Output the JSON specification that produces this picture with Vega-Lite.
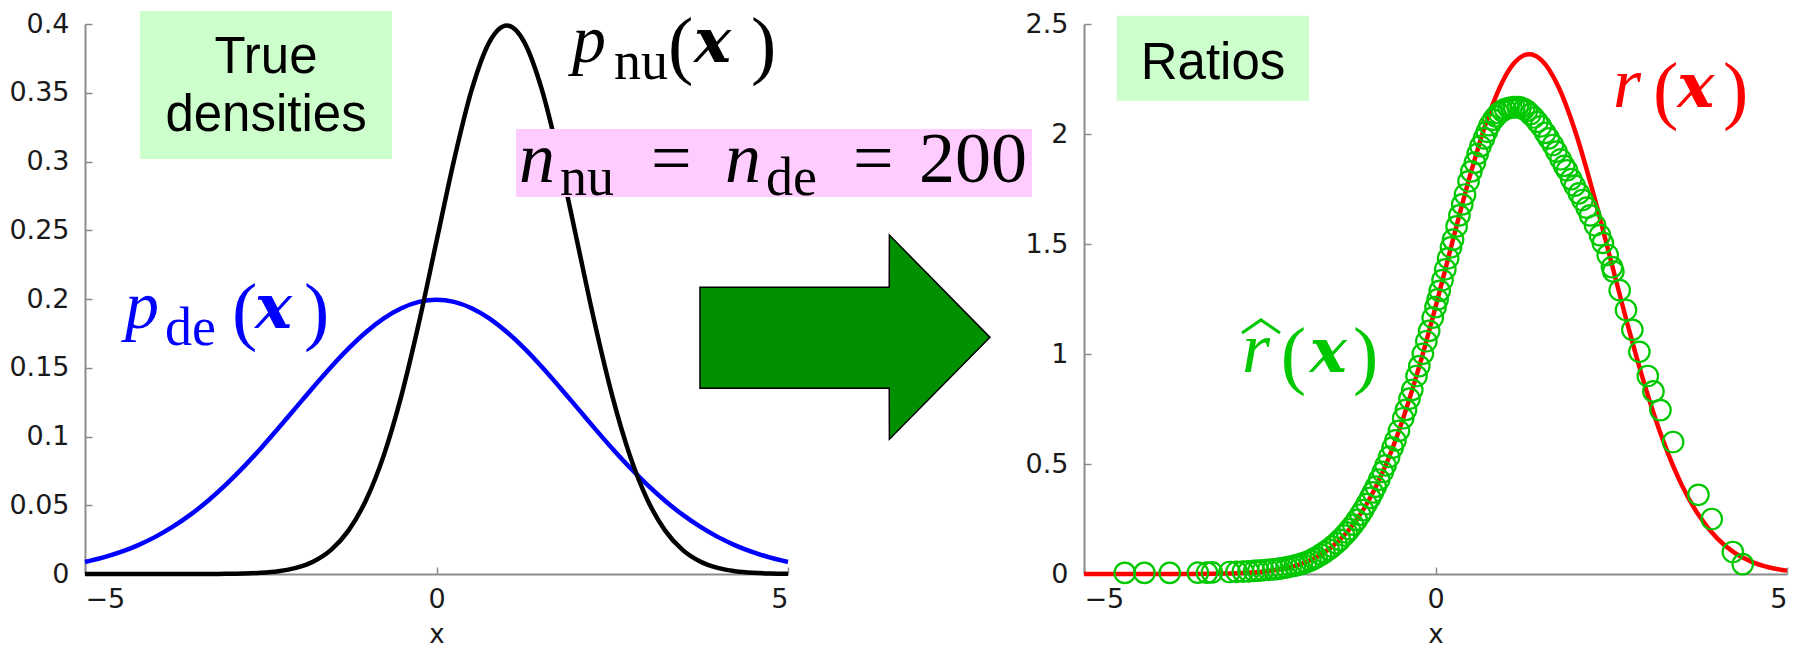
{
  "$schema": "https://vega.github.io/schema/vega-lite/v6.json",
  "background": "white",
  "autosize": {"type": "none"},
  "padding": {"left": 85, "top": 24, "right": 1720, "bottom": 628},
  "bounds": "flush",
  "spacing": 296,
  "resolve": {"scale": {"x": "independent", "y": "independent", "color": "independent"}},
  "config": {
    "view": {"stroke": null},
    "axis": {
      "grid": false,
      "domainColor": "#8c8c8c",
      "domainWidth": 2,
      "tickColor": "#8c8c8c",
      "tickWidth": 1.5,
      "tickSize": -7,
      "labelFont": "DejaVu Sans",
      "labelFontSize": 27,
      "labelColor": "#1a1a1a",
      "titleFont": "DejaVu Sans",
      "titleFontSize": 26,
      "titleFontWeight": "normal",
      "titleColor": "#1a1a1a"
    },
    "axisY": {"labelPadding": 23},
    "axisX": {"labelPadding": 19, "titlePadding": 9}
  },
  "datasets": {
    "densities": [
      {"x": -5, "p_nu": 0, "p_de": 0.00877},
      {"x": -4.75, "p_nu": 0, "p_de": 0.01188},
      {"x": -4.5, "p_nu": 0, "p_de": 0.01587},
      {"x": -4.25, "p_nu": 0, "p_de": 0.02086},
      {"x": -4, "p_nu": 0.0000015, "p_de": 0.027},
      {"x": -3.75, "p_nu": 0.000005, "p_de": 0.03439},
      {"x": -3.5, "p_nu": 0.000016, "p_de": 0.04314},
      {"x": -3.25, "p_nu": 0.000048, "p_de": 0.05327},
      {"x": -3, "p_nu": 0.000134, "p_de": 0.06476},
      {"x": -2.75, "p_nu": 0.000353, "p_de": 0.07751},
      {"x": -2.5, "p_nu": 0.000873, "p_de": 0.09132},
      {"x": -2.25, "p_nu": 0.00203, "p_de": 0.10594},
      {"x": -2, "p_nu": 0.00443, "p_de": 0.12099},
      {"x": -1.75, "p_nu": 0.00909, "p_de": 0.13603},
      {"x": -1.5, "p_nu": 0.01753, "p_de": 0.15057},
      {"x": -1.25, "p_nu": 0.03174, "p_de": 0.16408},
      {"x": -1, "p_nu": 0.05399, "p_de": 0.17603},
      {"x": -0.75, "p_nu": 0.08628, "p_de": 0.18593},
      {"x": -0.5, "p_nu": 0.12952, "p_de": 0.19333},
      {"x": -0.25, "p_nu": 0.18265, "p_de": 0.19792},
      {"x": 0, "p_nu": 0.24197, "p_de": 0.19947},
      {"x": 0.25, "p_nu": 0.30114, "p_de": 0.19792},
      {"x": 0.5, "p_nu": 0.35207, "p_de": 0.19333},
      {"x": 0.75, "p_nu": 0.38667, "p_de": 0.18593},
      {"x": 1, "p_nu": 0.39894, "p_de": 0.17603},
      {"x": 1.25, "p_nu": 0.38667, "p_de": 0.16408},
      {"x": 1.5, "p_nu": 0.35207, "p_de": 0.15057},
      {"x": 1.75, "p_nu": 0.30114, "p_de": 0.13603},
      {"x": 2, "p_nu": 0.24197, "p_de": 0.12099},
      {"x": 2.25, "p_nu": 0.18265, "p_de": 0.10594},
      {"x": 2.5, "p_nu": 0.12952, "p_de": 0.09132},
      {"x": 2.75, "p_nu": 0.08628, "p_de": 0.07751},
      {"x": 3, "p_nu": 0.05399, "p_de": 0.06476},
      {"x": 3.25, "p_nu": 0.03174, "p_de": 0.05327},
      {"x": 3.5, "p_nu": 0.01753, "p_de": 0.04314},
      {"x": 3.75, "p_nu": 0.00909, "p_de": 0.03439},
      {"x": 4, "p_nu": 0.00443, "p_de": 0.027},
      {"x": 4.25, "p_nu": 0.00203, "p_de": 0.02086},
      {"x": 4.5, "p_nu": 0.000873, "p_de": 0.01587},
      {"x": 4.75, "p_nu": 0.000353, "p_de": 0.01188},
      {"x": 5, "p_nu": 0.000134, "p_de": 0.00877}
    ],
    "ratio": [
      {"x": -5, "r": 0},
      {"x": -4.5, "r": 0.00001},
      {"x": -4, "r": 0.0001},
      {"x": -3.5, "r": 0.00037},
      {"x": -3, "r": 0.00206},
      {"x": -2.75, "r": 0.00455},
      {"x": -2.5, "r": 0.00955},
      {"x": -2.25, "r": 0.01916},
      {"x": -2, "r": 0.03663},
      {"x": -1.75, "r": 0.06688},
      {"x": -1.5, "r": 0.11644},
      {"x": -1.25, "r": 0.1935},
      {"x": -1, "r": 0.3067},
      {"x": -0.75, "r": 0.4641},
      {"x": -0.5, "r": 0.6698},
      {"x": -0.25, "r": 0.9229},
      {"x": 0, "r": 1.2131},
      {"x": 0.25, "r": 1.5216},
      {"x": 0.5, "r": 1.821},
      {"x": 0.75, "r": 2.0797},
      {"x": 1, "r": 2.2663},
      {"x": 1.125, "r": 2.3246},
      {"x": 1.25, "r": 2.3566},
      {"x": 1.333, "r": 2.3627},
      {"x": 1.375, "r": 2.3612},
      {"x": 1.5, "r": 2.3382},
      {"x": 1.75, "r": 2.2139},
      {"x": 2, "r": 2.0},
      {"x": 2.25, "r": 1.7241},
      {"x": 2.5, "r": 1.4183},
      {"x": 2.75, "r": 1.1131},
      {"x": 3, "r": 0.8337},
      {"x": 3.25, "r": 0.5959},
      {"x": 3.5, "r": 0.4063},
      {"x": 3.75, "r": 0.2644},
      {"x": 4, "r": 0.1642},
      {"x": 4.25, "r": 0.0973},
      {"x": 4.5, "r": 0.055},
      {"x": 4.75, "r": 0.0297},
      {"x": 5, "r": 0.0153}
    ],
    "estimate": [
      {"x": -4.42, "r_hat": 0.005}, {"x": -4.14, "r_hat": 0.005}, {"x": -3.78, "r_hat": 0.005},
      {"x": -3.38, "r_hat": 0.006}, {"x": -3.25, "r_hat": 0.006}, {"x": -3.18, "r_hat": 0.007},
      {"x": -2.93, "r_hat": 0.009}, {"x": -2.83, "r_hat": 0.01}, {"x": -2.74, "r_hat": 0.011},
      {"x": -2.66, "r_hat": 0.012}, {"x": -2.58, "r_hat": 0.014}, {"x": -2.52, "r_hat": 0.015},
      {"x": -2.45, "r_hat": 0.017}, {"x": -2.38, "r_hat": 0.019}, {"x": -2.31, "r_hat": 0.021},
      {"x": -2.25, "r_hat": 0.023}, {"x": -2.19, "r_hat": 0.026}, {"x": -2.12, "r_hat": 0.03},
      {"x": -2.06, "r_hat": 0.034}, {"x": -2.0, "r_hat": 0.038}, {"x": -1.95, "r_hat": 0.042},
      {"x": -1.9, "r_hat": 0.047}, {"x": -1.84, "r_hat": 0.053}, {"x": -1.78, "r_hat": 0.061},
      {"x": -1.73, "r_hat": 0.069}, {"x": -1.69, "r_hat": 0.076}, {"x": -1.63, "r_hat": 0.088},
      {"x": -1.58, "r_hat": 0.098}, {"x": -1.52, "r_hat": 0.111}, {"x": -1.47, "r_hat": 0.124},
      {"x": -1.41, "r_hat": 0.14}, {"x": -1.36, "r_hat": 0.155}, {"x": -1.3, "r_hat": 0.175},
      {"x": -1.26, "r_hat": 0.189}, {"x": -1.22, "r_hat": 0.204}, {"x": -1.17, "r_hat": 0.224},
      {"x": -1.12, "r_hat": 0.246}, {"x": -1.07, "r_hat": 0.27}, {"x": -1.03, "r_hat": 0.29},
      {"x": -0.98, "r_hat": 0.318}, {"x": -0.93, "r_hat": 0.346}, {"x": -0.89, "r_hat": 0.371},
      {"x": -0.85, "r_hat": 0.397}, {"x": -0.8, "r_hat": 0.429}, {"x": -0.75, "r_hat": 0.464},
      {"x": -0.71, "r_hat": 0.494}, {"x": -0.66, "r_hat": 0.532}, {"x": -0.61, "r_hat": 0.574},
      {"x": -0.57, "r_hat": 0.607}, {"x": -0.52, "r_hat": 0.651}, {"x": -0.46, "r_hat": 0.708},
      {"x": -0.42, "r_hat": 0.746}, {"x": -0.37, "r_hat": 0.797}, {"x": -0.33, "r_hat": 0.837},
      {"x": -0.27, "r_hat": 0.9}, {"x": -0.23, "r_hat": 0.945}, {"x": -0.18, "r_hat": 1.001},
      {"x": -0.13, "r_hat": 1.058}, {"x": -0.09, "r_hat": 1.105}, {"x": -0.04, "r_hat": 1.165},
      {"x": 0.0, "r_hat": 1.213}, {"x": 0.03, "r_hat": 1.248}, {"x": 0.06, "r_hat": 1.287},
      {"x": 0.1, "r_hat": 1.336}, {"x": 0.14, "r_hat": 1.385}, {"x": 0.18, "r_hat": 1.435},
      {"x": 0.22, "r_hat": 1.485}, {"x": 0.25, "r_hat": 1.52}, {"x": 0.3, "r_hat": 1.58},
      {"x": 0.34, "r_hat": 1.63}, {"x": 0.38, "r_hat": 1.68}, {"x": 0.42, "r_hat": 1.725},
      {"x": 0.47, "r_hat": 1.785}, {"x": 0.51, "r_hat": 1.83}, {"x": 0.56, "r_hat": 1.87},
      {"x": 0.6, "r_hat": 1.91}, {"x": 0.64, "r_hat": 1.945}, {"x": 0.69, "r_hat": 1.98},
      {"x": 0.73, "r_hat": 2.01}, {"x": 0.77, "r_hat": 2.04}, {"x": 0.82, "r_hat": 2.065},
      {"x": 0.86, "r_hat": 2.08}, {"x": 0.9, "r_hat": 2.095}, {"x": 0.95, "r_hat": 2.105},
      {"x": 0.99, "r_hat": 2.113}, {"x": 1.04, "r_hat": 2.118}, {"x": 1.08, "r_hat": 2.12},
      {"x": 1.12, "r_hat": 2.122}, {"x": 1.17, "r_hat": 2.122}, {"x": 1.21, "r_hat": 2.12},
      {"x": 1.26, "r_hat": 2.113}, {"x": 1.3, "r_hat": 2.105}, {"x": 1.35, "r_hat": 2.09},
      {"x": 1.4, "r_hat": 2.075}, {"x": 1.45, "r_hat": 2.055}, {"x": 1.5, "r_hat": 2.035},
      {"x": 1.56, "r_hat": 2.005}, {"x": 1.61, "r_hat": 1.98}, {"x": 1.67, "r_hat": 1.95},
      {"x": 1.72, "r_hat": 1.92}, {"x": 1.78, "r_hat": 1.885}, {"x": 1.83, "r_hat": 1.855},
      {"x": 1.87, "r_hat": 1.835}, {"x": 1.93, "r_hat": 1.795}, {"x": 1.98, "r_hat": 1.765},
      {"x": 2.04, "r_hat": 1.73}, {"x": 2.09, "r_hat": 1.7}, {"x": 2.15, "r_hat": 1.665},
      {"x": 2.2, "r_hat": 1.63}, {"x": 2.27, "r_hat": 1.585}, {"x": 2.34, "r_hat": 1.54},
      {"x": 2.38, "r_hat": 1.505}, {"x": 2.45, "r_hat": 1.45}, {"x": 2.51, "r_hat": 1.395},
      {"x": 2.53, "r_hat": 1.375}, {"x": 2.62, "r_hat": 1.29}, {"x": 2.71, "r_hat": 1.2},
      {"x": 2.8, "r_hat": 1.11}, {"x": 2.9, "r_hat": 1.01}, {"x": 3.02, "r_hat": 0.9},
      {"x": 3.1, "r_hat": 0.83}, {"x": 3.2, "r_hat": 0.745}, {"x": 3.38, "r_hat": 0.6},
      {"x": 3.74, "r_hat": 0.36}, {"x": 3.93, "r_hat": 0.25}, {"x": 4.23, "r_hat": 0.1},
      {"x": 4.37, "r_hat": 0.045}
    ]
  },
  "hconcat": [
    {
      "width": 703,
      "height": 550,
      "encoding": {
        "x": {"field": "x", "type": "quantitative", "scale": {"domain": [-5, 5], "nice": false},
              "axis": {"values": [-5, 0, 5], "format": "~g", "title": "x"}}
      },
      "layer": [
        {
          "data": {"name": "densities"},
          "mark": {"type": "line", "color": "#0000ff", "strokeWidth": 4.5, "interpolate": "monotone"},
          "encoding": {
            "y": {"field": "p_de", "type": "quantitative", "scale": {"domain": [0, 0.4], "nice": false},
                  "axis": {"values": [0, 0.05, 0.1, 0.15, 0.2, 0.25, 0.3, 0.35, 0.4], "format": "~g", "title": null}}
          }
        },
        {
          "data": {"name": "densities"},
          "mark": {"type": "line", "color": "#000000", "strokeWidth": 4.5, "interpolate": "monotone"},
          "encoding": {
            "y": {"field": "p_nu", "type": "quantitative", "scale": {"domain": [0, 0.4], "nice": false}}
          }
        },
        {
          "data": {"values": [
            {"x": 3.748, "lo": 0.1351, "hi": 0.2085},
            {"x": 6.44, "lo": 0.1351, "hi": 0.2085},
            {"x": 6.442, "lo": 0.098, "hi": 0.2465},
            {"x": 7.873, "lo": 0.1721, "hi": 0.1721}
          ]},
          "mark": {"type": "area", "color": "#009000", "stroke": "#000000", "strokeWidth": 1.5, "clip": false, "opacity": 1},
          "encoding": {
            "y": {"field": "lo", "type": "quantitative", "scale": {"domain": [0, 0.4], "nice": false}},
            "y2": {"field": "hi"}
          }
        },
        {
          "data": {"values": [{"x": 1.131, "x2": 8.471, "y": 0.3236, "y2": 0.2742}]},
          "mark": {"type": "rect", "color": "#ffccff", "clip": false},
          "encoding": {
            "x2": {"field": "x2"},
            "y": {"field": "y", "type": "quantitative", "scale": {"domain": [0, 0.4], "nice": false}},
            "y2": {"field": "y2"}
          }
        },
        {
          "data": {"values": [
            {"t": "n", "x": 1.174, "y": 0.2851},
            {"t": "n", "x": 4.104, "y": 0.2851}
          ]},
          "mark": {"type": "text", "font": "Liberation Serif", "fontStyle": "italic", "fontSize": 72, "align": "left", "baseline": "alphabetic", "color": "#000000", "clip": false},
          "encoding": {
            "y": {"field": "y", "type": "quantitative", "scale": {"domain": [0, 0.4], "nice": false}},
            "text": {"field": "t"}
          }
        },
        {
          "data": {"values": [
            {"t": "nu", "x": 1.757, "y": 0.2756},
            {"t": "de", "x": 4.687, "y": 0.2756}
          ]},
          "mark": {"type": "text", "font": "Liberation Serif", "fontSize": 54, "align": "left", "baseline": "alphabetic", "color": "#000000", "clip": false},
          "encoding": {
            "y": {"field": "y", "type": "quantitative", "scale": {"domain": [0, 0.4], "nice": false}},
            "text": {"field": "t"}
          }
        },
        {
          "data": {"values": [
            {"t": "=", "x": 3.051, "y": 0.2851},
            {"t": "=", "x": 5.925, "y": 0.2851},
            {"t": "200", "x": 6.863, "y": 0.2851}
          ]},
          "mark": {"type": "text", "font": "Liberation Serif", "fontSize": 72, "align": "left", "baseline": "alphabetic", "color": "#000000", "clip": false},
          "encoding": {
            "y": {"field": "y", "type": "quantitative", "scale": {"domain": [0, 0.4], "nice": false}},
            "text": {"field": "t"}
          }
        },
        {
          "data": {"values": [{"x": -4.218, "x2": -0.633, "y": 0.4095, "y2": 0.3018}]},
          "mark": {"type": "rect", "color": "#ccffcc", "clip": false},
          "encoding": {
            "x2": {"field": "x2"},
            "y": {"field": "y", "type": "quantitative", "scale": {"domain": [0, 0.4], "nice": false}},
            "y2": {"field": "y2"}
          }
        },
        {
          "data": {"values": [
            {"t": "True", "x": -2.425, "y": 0.3641},
            {"t": "densities", "x": -2.425, "y": 0.3224}
          ]},
          "mark": {"type": "text", "font": "Liberation Sans", "fontSize": 51, "align": "center", "baseline": "alphabetic", "color": "#000000", "clip": false},
          "encoding": {
            "y": {"field": "y", "type": "quantitative", "scale": {"domain": [0, 0.4], "nice": false}},
            "text": {"field": "t"}
          }
        },
        {
          "data": {"values": [
            {"t": "p", "x": 1.927, "y": 0.3724, "series": "p_nu"},
            {"t": "p", "x": -4.431, "y": 0.1789, "series": "p_de"}
          ]},
          "mark": {"type": "text", "font": "Liberation Serif", "fontStyle": "italic", "fontSize": 68, "align": "left", "baseline": "alphabetic", "clip": false},
          "encoding": {
            "y": {"field": "y", "type": "quantitative", "scale": {"domain": [0, 0.4], "nice": false}},
            "text": {"field": "t"},
            "color": {"field": "series", "type": "nominal", "scale": {"domain": ["p_nu", "p_de"], "range": ["#000000", "#0000ff"]}, "legend": null}
          }
        },
        {
          "data": {"values": [
            {"t": "nu", "x": 2.525, "y": 0.36, "series": "p_nu"},
            {"t": "de", "x": -3.862, "y": 0.1665, "series": "p_de"}
          ]},
          "mark": {"type": "text", "font": "Liberation Serif", "fontSize": 54, "align": "left", "baseline": "alphabetic", "clip": false},
          "encoding": {
            "y": {"field": "y", "type": "quantitative", "scale": {"domain": [0, 0.4], "nice": false}},
            "text": {"field": "t"},
            "color": {"field": "series", "type": "nominal", "scale": {"domain": ["p_nu", "p_de"], "range": ["#000000", "#0000ff"]}, "legend": null}
          }
        },
        {
          "data": {"values": [
            {"t": "(", "x": 3.293, "y": 0.3724, "series": "p_nu"},
            {"t": ")", "x": 4.474, "y": 0.3724, "series": "p_nu"},
            {"t": "(", "x": -2.909, "y": 0.1789, "series": "p_de"},
            {"t": ")", "x": -1.885, "y": 0.1789, "series": "p_de"}
          ]},
          "mark": {"type": "text", "font": "Liberation Serif", "fontSize": 76, "dy": 8, "align": "left", "baseline": "alphabetic", "clip": false},
          "encoding": {
            "y": {"field": "y", "type": "quantitative", "scale": {"domain": [0, 0.4], "nice": false}},
            "text": {"field": "t"},
            "color": {"field": "series", "type": "nominal", "scale": {"domain": ["p_nu", "p_de"], "range": ["#000000", "#0000ff"]}, "legend": null}
          }
        },
        {
          "data": {"values": [
            {"t": "x", "x": 3.663, "y": 0.3724, "series": "p_nu"},
            {"t": "x", "x": -2.582, "y": 0.1789, "series": "p_de"}
          ]},
          "mark": {"type": "text", "font": "DejaVu Serif", "fontStyle": "italic", "fontWeight": "bold", "fontSize": 62, "align": "left", "baseline": "alphabetic", "clip": false},
          "encoding": {
            "y": {"field": "y", "type": "quantitative", "scale": {"domain": [0, 0.4], "nice": false}},
            "text": {"field": "t"},
            "color": {"field": "series", "type": "nominal", "scale": {"domain": ["p_nu", "p_de"], "range": ["#000000", "#0000ff"]}, "legend": null}
          }
        }
      ]
    },
    {
      "width": 703,
      "height": 550,
      "encoding": {
        "x": {"field": "x", "type": "quantitative", "scale": {"domain": [-5, 5], "nice": false},
              "axis": {"values": [-5, 0, 5], "format": "~g", "title": "x"}}
      },
      "layer": [
        {
          "data": {"name": "ratio"},
          "mark": {"type": "line", "color": "#ff0000", "strokeWidth": 4.5, "interpolate": "monotone"},
          "encoding": {
            "y": {"field": "r", "type": "quantitative", "scale": {"domain": [0, 2.5], "nice": false},
                  "axis": {"values": [0, 0.5, 1, 1.5, 2, 2.5], "format": "~g", "title": null}}
          }
        },
        {
          "data": {"name": "estimate"},
          "mark": {"type": "point", "shape": "circle", "filled": false, "color": "#00c800", "strokeWidth": 2.2, "size": 420, "opacity": 1},
          "encoding": {
            "y": {"field": "r_hat", "type": "quantitative", "scale": {"domain": [0, 2.5], "nice": false}}
          }
        },
        {
          "data": {"values": [{"x": -4.535, "x2": -1.8, "y": 2.538, "y2": 2.151}]},
          "mark": {"type": "rect", "color": "#ccffcc", "clip": false},
          "encoding": {
            "x2": {"field": "x2"},
            "y": {"field": "y", "type": "quantitative", "scale": {"domain": [0, 2.5], "nice": false}},
            "y2": {"field": "y2"}
          }
        },
        {
          "data": {"values": [{"t": "Ratios", "x": -3.165, "y": 2.25}]},
          "mark": {"type": "text", "font": "Liberation Sans", "fontSize": 51, "align": "center", "baseline": "alphabetic", "color": "#000000", "clip": false},
          "encoding": {
            "y": {"field": "y", "type": "quantitative", "scale": {"domain": [0, 2.5], "nice": false}},
            "text": {"field": "t"}
          }
        },
        {
          "data": {"values": [
            {"t": "r", "x": 2.525, "y": 2.123, "series": "r"},
            {"t": "r", "x": -2.753, "y": 0.918, "series": "r_hat"}
          ]},
          "mark": {"type": "text", "font": "Liberation Serif", "fontStyle": "italic", "fontSize": 72, "align": "left", "baseline": "alphabetic", "clip": false},
          "encoding": {
            "y": {"field": "y", "type": "quantitative", "scale": {"domain": [0, 2.5], "nice": false}},
            "text": {"field": "t"},
            "color": {"field": "series", "type": "nominal", "scale": {"domain": ["r", "r_hat"], "range": ["#ff0000", "#00c800"]}, "legend": null}
          }
        },
        {
          "data": {"values": [
            {"t": "(", "x": 3.094, "y": 2.123, "series": "r"},
            {"t": ")", "x": 4.09, "y": 2.123, "series": "r"},
            {"t": "(", "x": -2.2, "y": 0.918, "series": "r_hat"},
            {"t": ")", "x": -1.174, "y": 0.918, "series": "r_hat"}
          ]},
          "mark": {"type": "text", "font": "Liberation Serif", "fontSize": 76, "dy": 8, "align": "left", "baseline": "alphabetic", "clip": false},
          "encoding": {
            "y": {"field": "y", "type": "quantitative", "scale": {"domain": [0, 2.5], "nice": false}},
            "text": {"field": "t"},
            "color": {"field": "series", "type": "nominal", "scale": {"domain": ["r", "r_hat"], "range": ["#ff0000", "#00c800"]}, "legend": null}
          }
        },
        {
          "data": {"values": [
            {"t": "x", "x": 3.44, "y": 2.123, "series": "r"},
            {"t": "x", "x": -1.79, "y": 0.918, "series": "r_hat"}
          ]},
          "mark": {"type": "text", "font": "DejaVu Serif", "fontStyle": "italic", "fontWeight": "bold", "fontSize": 62, "align": "left", "baseline": "alphabetic", "clip": false},
          "encoding": {
            "y": {"field": "y", "type": "quantitative", "scale": {"domain": [0, 2.5], "nice": false}},
            "text": {"field": "t"},
            "color": {"field": "series", "type": "nominal", "scale": {"domain": ["r", "r_hat"], "range": ["#ff0000", "#00c800"]}, "legend": null}
          }
        },
        {
          "data": {"values": [
            {"x": -2.753, "y": 1.095},
            {"x": -2.482, "y": 1.155},
            {"x": -2.212, "y": 1.095}
          ]},
          "mark": {"type": "line", "color": "#00c800", "strokeWidth": 3, "clip": false},
          "encoding": {
            "y": {"field": "y", "type": "quantitative", "scale": {"domain": [0, 2.5], "nice": false}}
          }
        }
      ]
    }
  ]
}
